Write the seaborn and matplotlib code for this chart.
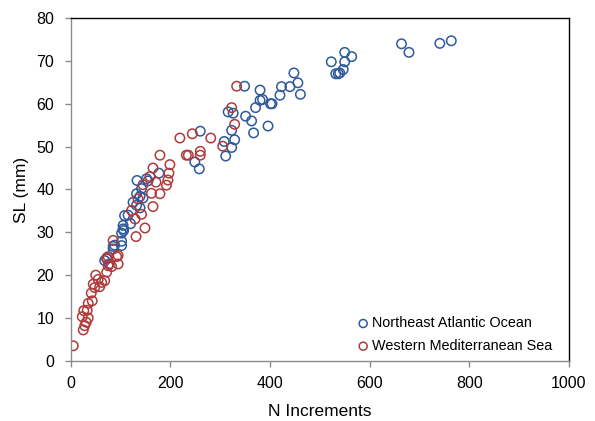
import pandas as pd
import numpy as np
import matplotlib
matplotlib.use("Agg")
import matplotlib.pyplot as plt
import seaborn as sns

# Northeast Atlantic Ocean
atl_n = [664, 679, 741, 764, 523, 550, 564, 550, 547, 537, 532, 540, 448, 456, 440,
         423, 420, 461, 380, 380, 385, 371, 401, 404, 349, 316, 326, 351, 363, 396,
         367, 323, 329, 308, 323, 311, 260, 249, 258, 177, 152, 133, 142, 132, 139,
         125, 132, 139, 108, 105, 105, 106, 102, 102, 85, 85, 102, 77, 68, 72, 88,
         115, 120, 155, 145]
atl_sl = [74.0, 72.0, 74.1, 74.7, 69.8, 72.0, 71.0, 69.8, 68.0, 67.0, 67.0, 67.2, 67.2, 64.9, 64.0,
          64.0, 62.0, 62.2, 63.2, 60.8, 61.0, 59.1, 60.0, 60.0, 64.1, 58.1, 57.8, 57.1, 56.0, 54.8,
          53.2, 53.8, 51.6, 51.2, 49.8, 47.8, 53.6, 46.4, 44.8, 43.8, 42.5, 42.1, 40.2, 39.0, 38.4,
          37.0, 36.3, 35.7, 33.9, 31.6, 30.8, 30.4, 29.8, 27.9, 26.1, 26.7, 26.9, 22.6, 23.4, 24.0, 27.0,
          34.0, 32.0, 42.0, 38.0]

# Western Mediterranean Sea
med_n = [5, 25, 28, 31, 35, 23, 26, 33, 35, 43, 41, 48, 45, 58, 62, 55, 50, 68, 72, 75,
         72, 95, 95, 85, 92, 75, 131, 149, 129, 122, 142, 165, 135, 162, 179, 145, 192,
         171, 195, 159, 165, 197, 199, 179, 219, 232, 236, 244, 260, 260, 281, 305, 329,
         323, 333, 82]
med_sl = [3.5, 7.2, 8.2, 9.0, 10.0, 10.3, 11.7, 11.8, 13.4, 14.0, 15.8, 17.1, 17.9, 17.3, 18.3, 19.0, 20.0, 18.7, 20.7, 22.2,
          23.8, 22.6, 24.6, 28.1, 24.3, 24.3, 29.0, 31.0, 33.1, 35.1, 34.2, 36.0, 37.8, 39.1, 39.0, 41.1, 41.0,
          41.7, 42.2, 43.0, 45.0, 43.8, 45.8, 48.0, 52.0, 48.0, 48.0, 53.0, 48.9, 48.0, 52.0, 50.1, 55.2,
          59.1, 64.1, 22.0]

regions = ["Northeast Atlantic Ocean", "Western Mediterranean Sea"]
colors = ["#2E5A9C", "#B03A3A"]

df = pd.DataFrame({
    "N Increments": atl_n + med_n,
    "SL (mm)": atl_sl + med_sl,
    "Region": [regions[0]] * len(atl_n) + [regions[1]] * len(med_n),
})

sns.set_style("white")
plt.rcParams["font.family"] = ["Liberation Sans", "DejaVu Sans"]
plt.rcParams["text.color"] = "black"
plt.rcParams["axes.labelcolor"] = "black"
plt.rcParams["xtick.color"] = "black"
plt.rcParams["ytick.color"] = "black"

fig = plt.figure(figsize=(5.95, 4.21), dpi=100)
ax = fig.add_axes([0.119, 0.143, 0.837, 0.814])

for reg, col in zip(regions, colors):
    sub = df[df["Region"] == reg]
    sns.scatterplot(data=sub, x="N Increments", y="SL (mm)", ax=ax, s=46,
                    facecolor="none", edgecolor=col, linewidth=1.1, label=reg)

ax.set_xlim(0, 1000)
ax.set_ylim(0, 80)
ax.set_xticks(range(0, 1001, 200))
ax.set_yticks(range(0, 81, 10))
ax.tick_params(axis="both", labelsize=11.5, direction="out", length=4, width=1,
               color="#8c8c8c", labelcolor="black")
ax.tick_params(axis="x", bottom=True, pad=7)
ax.tick_params(axis="y", left=True, pad=8)
for s in ["left", "bottom"]:
    ax.spines[s].set_color("#8c8c8c")
    ax.spines[s].set_linewidth(1)
for s in ["top", "right"]:
    ax.spines[s].set_color("black")
    ax.spines[s].set_linewidth(1)
ax.set_xlabel("N Increments", fontsize=12.5, labelpad=9)
ax.set_ylabel("SL (mm)", fontsize=12.5, labelpad=5)

leg = ax.legend(loc="lower right", bbox_to_anchor=(0.978, 0.006), frameon=False,
                fontsize=10.4, handletextpad=-0.4, markerscale=0.85,
                labelspacing=0.6, borderaxespad=0, borderpad=0.4)

fig.savefig("out.png", dpi=100)
